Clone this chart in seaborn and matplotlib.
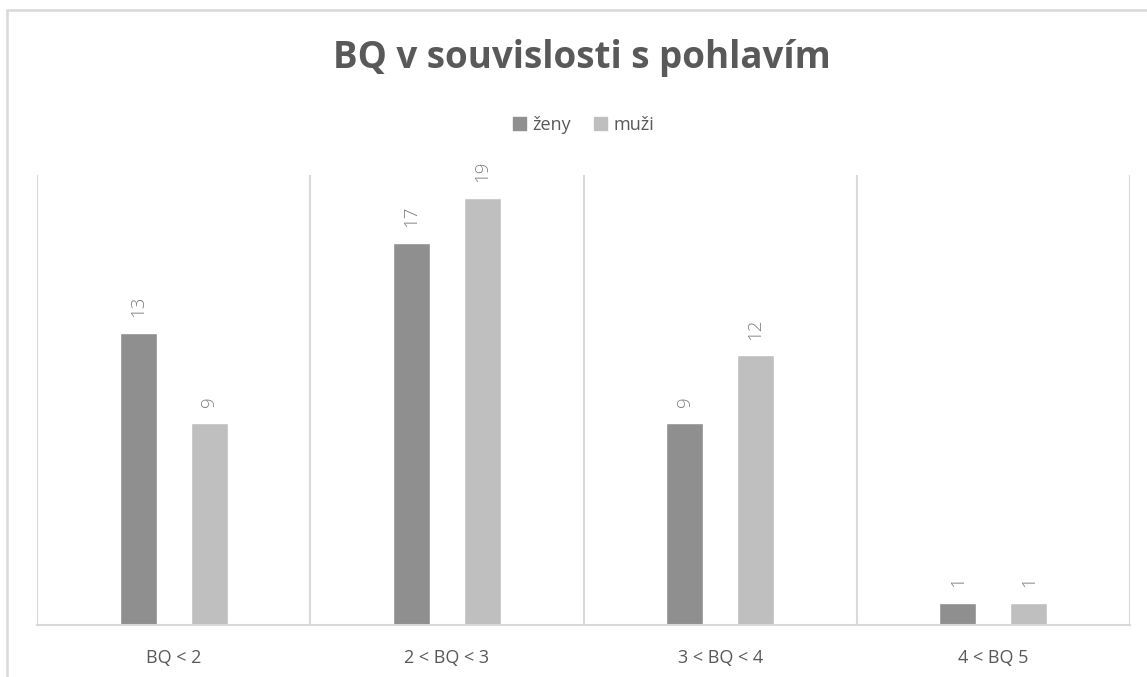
import pandas as pd
import seaborn as sns
import matplotlib.pyplot as plt
from matplotlib.patches import Rectangle

# Data
categories = ["BQ < 2", "2 < BQ < 3", "3 < BQ < 4", "4 < BQ 5"]
zeny = [13, 17, 9, 1]
muzi = [9, 19, 12, 1]
series_names = ["ženy", "muži"]
colors = ["#8f8f8f", "#bfbfbf"]

df = pd.DataFrame({
    "kategorie": categories * 2,
    "pocet": zeny + muzi,
    "pohlavi": [series_names[0]] * 4 + [series_names[1]] * 4,
})

sns.set_theme(style="white")
plt.rcParams['font.family'] = ['Open Sans', 'DejaVu Sans']
text_color = "#595959"
grid_color = "#d9d9d9"

fig = plt.figure(figsize=(11.47, 6.77), dpi=100)
ax = fig.add_axes([37 / 1147, 1 - 625 / 677, (1130 - 37) / 1147, 450 / 677])

sns.barplot(data=df, x="kategorie", y="pocet", hue="pohlavi",
            palette=colors, width=0.52, gap=0.48, saturation=1,
            ax=ax, legend=False)

# Value labels, rotated
for cont in ax.containers:
    ax.bar_label(cont, labels=[str(int(v)) for v in cont.datavalues],
                 rotation=90, padding=11, fontsize=13.5, color="#7f7f7f",
                 fontweight='light')

ax.set_ylim(0, 20)
ax.set_xlim(-0.5, 3.5)
ax.set_yticks([])
ax.set_xlabel("")
ax.set_ylabel("")
ax.tick_params(axis='x', length=0, pad=17, labelsize=13, labelcolor=text_color)

# Vertical separators between categories
for xb in [-0.5, 0.5, 1.5, 2.5, 3.5]:
    ax.axvline(xb, color=grid_color, lw=1.5, zorder=0)
for side in ["left", "right", "top"]:
    ax.spines[side].set_visible(False)
ax.spines["bottom"].set_color(grid_color)
ax.spines["bottom"].set_linewidth(1.5)

# Legend
handles = [plt.Rectangle((0, 0), 1, 1, color=c) for c in colors]
fig.legend(handles, series_names, loc="center", bbox_to_anchor=(0.509, 1 - 125 / 677),
           ncol=2, frameon=False, fontsize=13, labelcolor=text_color,
           handlelength=0.7, handleheight=0.7, handletextpad=0.35,
           columnspacing=1.3)

fig.text(0.507, 1 - 58 / 677, "BQ v souvislosti s pohlavím", ha="center", va="center",
         fontsize=26.5, fontweight="bold", color=text_color)

# Outer chart border
fig.add_artist(Rectangle((7 / 1147, -0.1), 1.2, 1.1 - 10 / 677,
                         transform=fig.transFigure, fill=False,
                         edgecolor=grid_color, lw=1.8))

fig.savefig("out.png", dpi=100)
